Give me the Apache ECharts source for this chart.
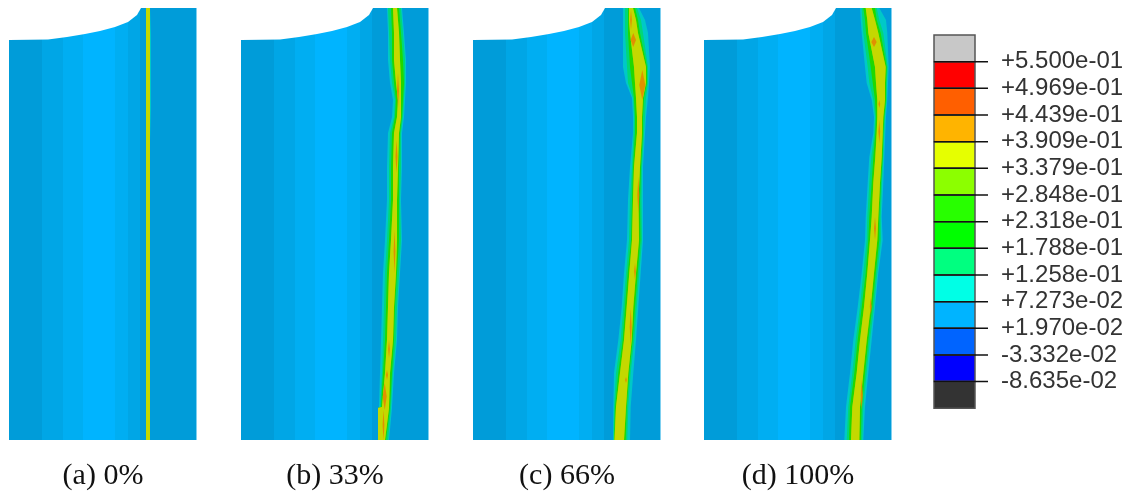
<!DOCTYPE html>
<html><head><meta charset="utf-8">
<style>html,body{margin:0;padding:0;background:#fff}#c{width:1137px;height:493px;filter:blur(0.4px)}</style>
<script src="https://cdn.jsdelivr.net/npm/echarts@6/dist/echarts.min.js"></script>
</head><body><div id="c"></div>
<script>
// Contour legend
const contourLevels = [0.55,0.4969,0.4439,0.3909,0.3379,0.2848,0.2318,0.1788,0.1258,0.07273,0.0197,-0.03332,-0.08635];
const levelTop = 0.603, levelBottom = -0.1394;
const levelLabels = ['+5.500e-01','+4.969e-01','+4.439e-01','+3.909e-01','+3.379e-01','+2.848e-01','+2.318e-01','+1.788e-01','+1.258e-01','+7.273e-02','+1.970e-02','-3.332e-02','-8.635e-02'];
const legendColors = ['#c8c8c8','#ff0000','#ff5f00','#ffb400','#e6ff00','#8cff00','#28ff00','#00ff00','#00ff80','#00ffe6','#00b4ff','#0064ff','#0000ff','#333333'];
// Panels
const captions = ['(a) 0%','(b) 33%','(c) 66%','(d) 100%'];
// Shell stress bands: [from, to, colour]
const bandEdges = [0,33,54,74,106,119,131,187,188];
const bandColors = ['#009cd9','#00a6e6','#00aef2','#00b4ff','#00aef2','#00a6e6','#009cd9','#7fd0f0'];
// Outline of the cut-away at the top left of each shell: [x, y]
const cutOutline = [[0,0],[132,0],[128,7],[119,14],[106,19],[91,23],[76,26],[58,29],[39,31.5],[0,32]];
// Contour bands: y, then left edges teal/green/lime/yellow, then right edges yellow/lime/green/teal
const crackA = [
 [0,137,137,137,137,141,141,141,141],[27,137,137,137,137,141,141,141,142],
 [100,137,137,137,137,141,141,141,142],[132,137,137,137,137,141,141,141,141],[432,137,137,137,137,141,141,141,141]];
const crackB = [
 [0,146,147,150,152,156,158,160,161],[25,147,148,151,153,158,160,162,163],[52,147,149,151,153,159,162,164,165],
 [75,149,151,153,155,160,163,164,165],[92,152,154,155,157,160,162,163,164],[109,151,153,154,156,160,161,162,163],
 [125,147,149,151,153,158,159,160,161],[159,146,148,150,152,157,158,160,161],[192,146,148,150,152,156,158,159,160],
 [232,144,146,148,150,156,158,160,161],[265,142,144,146,148,155,156,158,159],[299,141,143,145,147,153,154,156,157],
 [332,140,142,144,146,152,153,155,156],[365,139,141,142,144,149,151,152,153],[399,138,139,140,141,148,149,150,151],
 [400,137,137,137,137,148,149,150,151],[432,137,137,137,137,144,145,147,148]];
const crackC = [
 [0,150,152,155,156,160,162,164,166],[12,150,152,155,156,163,165,168,172],[25,150,152,155,157,165,167,170,175],
 [59,150,154,157,161,173,174,175,177],[75,153,155,159,162,173,174,175,176],[90,159,160,161,163,170,171,173,175],
 [109,160,161,162,164,169,170,172,173],[125,160,160.5,162,164,169,170,171,172],[159,157,159,160,161,167,168,169,170],
 [192,155,157,159,160,165.5,167,168.5,170],[232,154,156,158,159,166,167.5,169,170],[265,151,153,154.7,156.3,163,164.7,166.3,167.7],
 [299,148.7,150.3,152,153.7,160.3,162,163.7,165.3],[332,145.3,147.7,149.7,151,158.7,159.7,161.3,163],
 [365,141,143,145.3,147,155.3,156.3,157.7,160.3],[399,140.3,141,142,143,153,153.7,155.3,157.7],[432,140,140.5,141,141.5,151,152.7,154.3,157]];
const crackD = [
 [0,156,157.7,159.3,161.7,167.7,171,172.7,175.3],[12,156.7,158.3,161,163.3,171,172.7,175.3,182],[25,157.7,159.3,162,164.3,174.3,176.7,179.3,183.3],
 [59,161,163.7,166.7,171,181.7,182.7,183.7,184.7],[75,162.7,165.3,168.7,172,181,182,183,184],[92,167.7,169.3,171,173.3,181,182,182.7,183.3],
 [109,170,171,172,173.3,179.3,180.3,181,182],[125,169.3,170.3,171.3,172.7,178.7,179.3,180.3,181.3],[149,165.3,167.3,169.3,171.3,177.7,178.7,179.3,180.3],
 [175,163.7,165.3,167.7,169.3,176,177,178,179.3],[209,161.7,163.3,165.3,167.7,174.3,175.3,176.7,177.7],[232,161,162.7,164.3,166,173.3,175.3,177,178.7],
 [265,157.7,159.3,161.7,163.3,170,171.7,173.3,174.3],[299,153.7,156,157.7,160,166.7,168.3,170,171],[332,149.3,151.7,153.7,156,162.7,164.3,166,167.7],
 [365,146,148.3,150.3,152.7,159.3,161,162.7,164.3],[399,142,144.3,146,148.3,156,157.7,159.3,161],[432,140.3,142.7,145,147,155.3,156.7,158.3,159.3]];
// Hot spots: top y, bottom y, centre x, half width
const hotA = [];
const hotB = [[65,100,157,1],[132,165,155.5,1],[222,265,153.5,.9],[332,350,148,.9],[362,372,146,1],[375,402,143.7,2],[402,432,142.5,.9]];
const hotC = [[2,22,158,.9],[25,39,160.3,2.7],[62,92,169.3,3],[169,205,165.3,1],[255,272,162,.9],[300,338,157.7,1],[369,375,153,.9]];
const hotD = [[29,39,170,2.7],[92,100,175.3,.9],[112,135,175.3,.9],[209,232,171,1],[290,307,166.7,.9],[372,402,157.7,1]];
const contourColors = ['#00c8c8','#00d878','#20d800','#78d900','#c4d800'];
const hotColor = '#e09000';

const crackRows = [crackA,crackB,crackC,crackD];
const hotRows = [hotA,hotB,hotC,hotD];
const panelLefts = [9,241,473,704];
const grid=[],xAxis=[],yAxis=[],series=[];
captions.forEach((cap,p)=>{
  grid.push({left:panelLefts[p],top:8,width:188,height:432,outerBoundsMode:'none'});
  xAxis.push({gridIndex:p,type:'value',min:0,max:188,name:cap,nameLocation:'middle',nameGap:21,
    nameTextStyle:{fontFamily:'Liberation Serif',fontSize:30,color:'#111'},
    axisLine:{show:false},axisTick:{show:false},axisLabel:{show:false},splitLine:{show:false}});
  yAxis.push({gridIndex:p,type:'value',min:0,max:432,inverse:true,show:false,splitLine:{show:false}});
  const base={type:'custom',coordinateSystem:'cartesian2d',xAxisIndex:p,yAxisIndex:p,silent:true,clip:true};
  const poly=(api,pts,fill,extra)=>Object.assign({type:'polygon',shape:{points:pts.map(q=>api.coord(q))},style:{fill:fill}},extra||{});
  series.push(Object.assign({},base,{z:1,data:bandColors.map((c,i)=>[bandEdges[i],bandEdges[i+1]]),
    renderItem:(params,api)=>{
      const a=api.value(0),b=api.value(1);
      return poly(api,[[a,0],[b,0],[b,432],[a,432]],bandColors[params.dataIndex]);
    }}));
  const rows=crackRows[p];
  series.push(Object.assign({},base,{z:2,data:contourColors.map((c,i)=>[i]),
    renderItem:(params,api)=>{
      const i=api.value(0);
      const left=rows.map(r=>[r[1+i],r[0]]);
      const right=rows.map(r=>[r[8-i],r[0]]).reverse();
      return poly(api,left.concat(right),contourColors[i]);
    }}));
  series.push(Object.assign({},base,{z:3,data:hotRows[p],
    renderItem:(params,api)=>{
      const t=api.value(0),b=api.value(1),x=api.value(2),w=api.value(3);
      return poly(api,[[x,t],[x+w,(t+b)/2],[x,b],[x-w,(t+b)/2]],hotColor);
    }}));
  series.push(Object.assign({},base,{z:4,data:[[0]],
    renderItem:(params,api)=>poly(api,cutOutline,'#ffffff')}));
});
// colour legend
grid.push({left:934,top:35,width:41,height:373.3,outerBoundsMode:'none'});
xAxis.push({gridIndex:4,type:'value',min:0,max:1,show:false,splitLine:{show:false}});
yAxis.push({gridIndex:4,type:'value',position:'right',min:levelBottom,max:levelTop,
  axisLine:{show:false},splitLine:{show:false},axisTick:{show:false},
  axisLabel:{show:true,customValues:contourLevels,margin:26,fontFamily:'Liberation Sans',fontSize:24,color:'#333',
    formatter:(v,i)=>levelLabels[contourLevels.indexOf(v)]}});
const bounds=[levelTop].concat(contourLevels,[levelBottom]);
series.push({type:'custom',coordinateSystem:'cartesian2d',xAxisIndex:4,yAxisIndex:4,silent:true,z:5,
  data:legendColors.map((c,i)=>[bounds[i],bounds[i+1]]),
  renderItem:(params,api)=>{
    const p0=api.coord([0,api.value(0)]),p1=api.coord([1,api.value(1)]);
    return {type:'rect',shape:{x:p0[0],y:p0[1],width:p1[0]-p0[0],height:p1[1]-p0[1]},
      style:{fill:legendColors[params.dataIndex],stroke:'#555',lineWidth:1.5}};
  }});
series.push({type:'custom',coordinateSystem:'cartesian2d',xAxisIndex:4,yAxisIndex:4,silent:true,z:6,clip:false,
  data:contourLevels.map(v=>[v]),
  renderItem:(params,api)=>{
    const a=api.coord([0,api.value(0)]),b=api.coord([1.317,api.value(0)]);
    return {type:'line',shape:{x1:a[0],y1:a[1],x2:b[0],y2:b[1]},style:{stroke:'#111',lineWidth:1.5}};
  }});
const chart=echarts.init(document.getElementById('c'),null,{renderer:'canvas'});
chart.setOption({animation:false,backgroundColor:'#fff',grid,xAxis,yAxis,series});
</script></body></html>
